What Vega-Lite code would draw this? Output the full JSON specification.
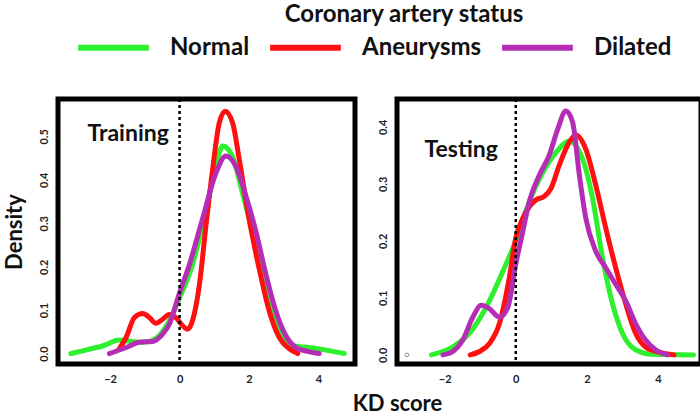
{
  "$schema": "https://vega.github.io/schema/vega-lite/v6.json",
  "padding": {"left": 0, "top": 3, "right": 0, "bottom": 0},
  "title": {"text": "Coronary artery status", "font": "Lato", "fontSize": 24, "fontWeight": "bold", "color": "#111", "anchor": "middle", "dx": 52, "offset": -18},
  "datasets": {
    "curves": [
      {"panel": "Training", "status": "Normal", "kd": -3.13, "density": 0.0},
      {"panel": "Training", "status": "Normal", "kd": -2.7, "density": 0.008},
      {"panel": "Training", "status": "Normal", "kd": -2.2, "density": 0.018},
      {"panel": "Training", "status": "Normal", "kd": -1.74, "density": 0.031},
      {"panel": "Training", "status": "Normal", "kd": -1.4, "density": 0.028},
      {"panel": "Training", "status": "Normal", "kd": -1.06, "density": 0.026},
      {"panel": "Training", "status": "Normal", "kd": -0.8, "density": 0.03},
      {"panel": "Training", "status": "Normal", "kd": -0.59, "density": 0.041},
      {"panel": "Training", "status": "Normal", "kd": -0.3, "density": 0.075},
      {"panel": "Training", "status": "Normal", "kd": 0.0, "density": 0.128},
      {"panel": "Training", "status": "Normal", "kd": 0.37, "density": 0.204},
      {"panel": "Training", "status": "Normal", "kd": 0.66, "density": 0.295},
      {"panel": "Training", "status": "Normal", "kd": 0.95, "density": 0.4},
      {"panel": "Training", "status": "Normal", "kd": 1.1, "density": 0.45},
      {"panel": "Training", "status": "Normal", "kd": 1.24, "density": 0.478},
      {"panel": "Training", "status": "Normal", "kd": 1.4, "density": 0.47},
      {"panel": "Training", "status": "Normal", "kd": 1.53, "density": 0.452},
      {"panel": "Training", "status": "Normal", "kd": 1.81, "density": 0.37},
      {"panel": "Training", "status": "Normal", "kd": 2.1, "density": 0.28},
      {"panel": "Training", "status": "Normal", "kd": 2.39, "density": 0.19},
      {"panel": "Training", "status": "Normal", "kd": 2.68, "density": 0.098},
      {"panel": "Training", "status": "Normal", "kd": 2.96, "density": 0.037},
      {"panel": "Training", "status": "Normal", "kd": 3.25, "density": 0.018},
      {"panel": "Training", "status": "Normal", "kd": 3.73, "density": 0.014},
      {"panel": "Training", "status": "Normal", "kd": 4.21, "density": 0.008},
      {"panel": "Training", "status": "Normal", "kd": 4.74, "density": 0.0},

      {"panel": "Training", "status": "Aneurysms", "kd": -1.74, "density": 0.011},
      {"panel": "Training", "status": "Aneurysms", "kd": -1.54, "density": 0.037},
      {"panel": "Training", "status": "Aneurysms", "kd": -1.3, "density": 0.083},
      {"panel": "Training", "status": "Aneurysms", "kd": -1.06, "density": 0.092},
      {"panel": "Training", "status": "Aneurysms", "kd": -0.87, "density": 0.083},
      {"panel": "Training", "status": "Aneurysms", "kd": -0.68, "density": 0.07},
      {"panel": "Training", "status": "Aneurysms", "kd": -0.49, "density": 0.079},
      {"panel": "Training", "status": "Aneurysms", "kd": -0.3, "density": 0.09},
      {"panel": "Training", "status": "Aneurysms", "kd": -0.11, "density": 0.083},
      {"panel": "Training", "status": "Aneurysms", "kd": 0.09, "density": 0.064},
      {"panel": "Training", "status": "Aneurysms", "kd": 0.23, "density": 0.056},
      {"panel": "Training", "status": "Aneurysms", "kd": 0.37, "density": 0.075},
      {"panel": "Training", "status": "Aneurysms", "kd": 0.57, "density": 0.158},
      {"panel": "Training", "status": "Aneurysms", "kd": 0.76, "density": 0.295},
      {"panel": "Training", "status": "Aneurysms", "kd": 0.95, "density": 0.423},
      {"panel": "Training", "status": "Aneurysms", "kd": 1.14, "density": 0.53},
      {"panel": "Training", "status": "Aneurysms", "kd": 1.31, "density": 0.558},
      {"panel": "Training", "status": "Aneurysms", "kd": 1.53, "density": 0.53},
      {"panel": "Training", "status": "Aneurysms", "kd": 1.72, "density": 0.446},
      {"panel": "Training", "status": "Aneurysms", "kd": 2.0, "density": 0.31},
      {"panel": "Training", "status": "Aneurysms", "kd": 2.29, "density": 0.196},
      {"panel": "Training", "status": "Aneurysms", "kd": 2.58, "density": 0.098},
      {"panel": "Training", "status": "Aneurysms", "kd": 2.87, "density": 0.037},
      {"panel": "Training", "status": "Aneurysms", "kd": 3.16, "density": 0.011},
      {"panel": "Training", "status": "Aneurysms", "kd": 3.4, "density": 0.0},

      {"panel": "Training", "status": "Dilated", "kd": -2.02, "density": 0.0},
      {"panel": "Training", "status": "Dilated", "kd": -1.54, "density": 0.014},
      {"panel": "Training", "status": "Dilated", "kd": -1.16, "density": 0.026},
      {"panel": "Training", "status": "Dilated", "kd": -0.78, "density": 0.028},
      {"panel": "Training", "status": "Dilated", "kd": -0.49, "density": 0.045},
      {"panel": "Training", "status": "Dilated", "kd": -0.3, "density": 0.067},
      {"panel": "Training", "status": "Dilated", "kd": 0.0, "density": 0.14},
      {"panel": "Training", "status": "Dilated", "kd": 0.28, "density": 0.204},
      {"panel": "Training", "status": "Dilated", "kd": 0.66, "density": 0.31},
      {"panel": "Training", "status": "Dilated", "kd": 1.05, "density": 0.416},
      {"panel": "Training", "status": "Dilated", "kd": 1.33, "density": 0.455},
      {"panel": "Training", "status": "Dilated", "kd": 1.62, "density": 0.431},
      {"panel": "Training", "status": "Dilated", "kd": 1.91, "density": 0.363},
      {"panel": "Training", "status": "Dilated", "kd": 2.2, "density": 0.28},
      {"panel": "Training", "status": "Dilated", "kd": 2.49, "density": 0.181},
      {"panel": "Training", "status": "Dilated", "kd": 2.77, "density": 0.098},
      {"panel": "Training", "status": "Dilated", "kd": 3.06, "density": 0.041},
      {"panel": "Training", "status": "Dilated", "kd": 3.35, "density": 0.014},
      {"panel": "Training", "status": "Dilated", "kd": 3.68, "density": 0.005},
      {"panel": "Training", "status": "Dilated", "kd": 4.02, "density": 0.0},

      {"panel": "Testing", "status": "Normal", "kd": -2.37, "density": 0.0},
      {"panel": "Testing", "status": "Normal", "kd": -1.77, "density": 0.014},
      {"panel": "Testing", "status": "Normal", "kd": -1.3, "density": 0.038},
      {"panel": "Testing", "status": "Normal", "kd": -0.83, "density": 0.084},
      {"panel": "Testing", "status": "Normal", "kd": -0.36, "density": 0.147},
      {"panel": "Testing", "status": "Normal", "kd": 0.0, "density": 0.2},
      {"panel": "Testing", "status": "Normal", "kd": 0.38, "density": 0.269},
      {"panel": "Testing", "status": "Normal", "kd": 0.76, "density": 0.32},
      {"panel": "Testing", "status": "Normal", "kd": 1.13, "density": 0.355},
      {"panel": "Testing", "status": "Normal", "kd": 1.5, "density": 0.375},
      {"panel": "Testing", "status": "Normal", "kd": 1.88, "density": 0.344},
      {"panel": "Testing", "status": "Normal", "kd": 2.16, "density": 0.275},
      {"panel": "Testing", "status": "Normal", "kd": 2.44, "density": 0.17},
      {"panel": "Testing", "status": "Normal", "kd": 2.72, "density": 0.09},
      {"panel": "Testing", "status": "Normal", "kd": 3.0, "density": 0.038},
      {"panel": "Testing", "status": "Normal", "kd": 3.37, "density": 0.009},
      {"panel": "Testing", "status": "Normal", "kd": 3.84, "density": 0.001},
      {"panel": "Testing", "status": "Normal", "kd": 5.0, "density": 0.0},

      {"panel": "Testing", "status": "Aneurysms", "kd": -1.28, "density": 0.0},
      {"panel": "Testing", "status": "Aneurysms", "kd": -1.02, "density": 0.006},
      {"panel": "Testing", "status": "Aneurysms", "kd": -0.74, "density": 0.02},
      {"panel": "Testing", "status": "Aneurysms", "kd": -0.46, "density": 0.055},
      {"panel": "Testing", "status": "Aneurysms", "kd": -0.18, "density": 0.136},
      {"panel": "Testing", "status": "Aneurysms", "kd": 0.0, "density": 0.205},
      {"panel": "Testing", "status": "Aneurysms", "kd": 0.2, "density": 0.24},
      {"panel": "Testing", "status": "Aneurysms", "kd": 0.38, "density": 0.26},
      {"panel": "Testing", "status": "Aneurysms", "kd": 0.57, "density": 0.272},
      {"panel": "Testing", "status": "Aneurysms", "kd": 0.8, "density": 0.278},
      {"panel": "Testing", "status": "Aneurysms", "kd": 0.99, "density": 0.292},
      {"panel": "Testing", "status": "Aneurysms", "kd": 1.22, "density": 0.332},
      {"panel": "Testing", "status": "Aneurysms", "kd": 1.5, "density": 0.373},
      {"panel": "Testing", "status": "Aneurysms", "kd": 1.69, "density": 0.386},
      {"panel": "Testing", "status": "Aneurysms", "kd": 1.97, "density": 0.361},
      {"panel": "Testing", "status": "Aneurysms", "kd": 2.25, "density": 0.298},
      {"panel": "Testing", "status": "Aneurysms", "kd": 2.53, "density": 0.223},
      {"panel": "Testing", "status": "Aneurysms", "kd": 2.81, "density": 0.153},
      {"panel": "Testing", "status": "Aneurysms", "kd": 3.09, "density": 0.09},
      {"panel": "Testing", "status": "Aneurysms", "kd": 3.37, "density": 0.038},
      {"panel": "Testing", "status": "Aneurysms", "kd": 3.65, "density": 0.014},
      {"panel": "Testing", "status": "Aneurysms", "kd": 4.03, "density": 0.005},
      {"panel": "Testing", "status": "Aneurysms", "kd": 4.45, "density": 0.0},

      {"panel": "Testing", "status": "Dilated", "kd": -2.05, "density": 0.0},
      {"panel": "Testing", "status": "Dilated", "kd": -1.77, "density": 0.006},
      {"panel": "Testing", "status": "Dilated", "kd": -1.49, "density": 0.026},
      {"panel": "Testing", "status": "Dilated", "kd": -1.21, "density": 0.066},
      {"panel": "Testing", "status": "Dilated", "kd": -0.97, "density": 0.087},
      {"panel": "Testing", "status": "Dilated", "kd": -0.74, "density": 0.081},
      {"panel": "Testing", "status": "Dilated", "kd": -0.46, "density": 0.066},
      {"panel": "Testing", "status": "Dilated", "kd": -0.22, "density": 0.084},
      {"panel": "Testing", "status": "Dilated", "kd": 0.0, "density": 0.159},
      {"panel": "Testing", "status": "Dilated", "kd": 0.2, "density": 0.217},
      {"panel": "Testing", "status": "Dilated", "kd": 0.38, "density": 0.269},
      {"panel": "Testing", "status": "Dilated", "kd": 0.66, "density": 0.315},
      {"panel": "Testing", "status": "Dilated", "kd": 0.94, "density": 0.35},
      {"panel": "Testing", "status": "Dilated", "kd": 1.18, "density": 0.396},
      {"panel": "Testing", "status": "Dilated", "kd": 1.41, "density": 0.428},
      {"panel": "Testing", "status": "Dilated", "kd": 1.6, "density": 0.408},
      {"panel": "Testing", "status": "Dilated", "kd": 1.79, "density": 0.315},
      {"panel": "Testing", "status": "Dilated", "kd": 1.97, "density": 0.24},
      {"panel": "Testing", "status": "Dilated", "kd": 2.25, "density": 0.182},
      {"panel": "Testing", "status": "Dilated", "kd": 2.53, "density": 0.153},
      {"panel": "Testing", "status": "Dilated", "kd": 2.81, "density": 0.124},
      {"panel": "Testing", "status": "Dilated", "kd": 3.09, "density": 0.095},
      {"panel": "Testing", "status": "Dilated", "kd": 3.37, "density": 0.055},
      {"panel": "Testing", "status": "Dilated", "kd": 3.65, "density": 0.026},
      {"panel": "Testing", "status": "Dilated", "kd": 3.93, "density": 0.009},
      {"panel": "Testing", "status": "Dilated", "kd": 4.26, "density": 0.0}
    ],
    "zero": [{"kd": 0}],
    "trainLabel": [{"kd": -1.48, "density": 0.49, "label": "Training"}],
    "testLabel": [{"kd": -1.535, "density": 0.347, "label": "Testing"}],
    "testPoint": [{"kd": -3.06, "density": 0.0}]
  },
  "bounds": "flush",
  "spacing": 42,
  "hconcat": [
    {
      "width": 297,
      "height": 265,
      "layer": [
        {
          "data": {"name": "curves"},
          "transform": [{"filter": "datum.panel === 'Training'"}],
          "mark": {"type": "line", "strokeWidth": 5, "interpolate": "monotone", "strokeCap": "round", "strokeJoin": "round"},
          "encoding": {
            "x": {"field": "kd", "type": "quantitative", "scale": {"domain": [-3.5, 5.05], "nice": false, "zero": false},
                  "axis": {"values": [-2, 0, 2, 4], "title": null}},
            "y": {"field": "density", "type": "quantitative", "scale": {"domain": [-0.024, 0.586], "nice": false, "zero": false},
                  "axis": {"values": [0, 0.1, 0.2, 0.3, 0.4, 0.5], "format": ".1f", "title": "Density",
                           "labelAngle": -90, "labelAlign": "center", "labelBaseline": "bottom"}},
            "color": {"field": "status", "type": "nominal",
                      "scale": {"domain": ["Normal", "Aneurysms", "Dilated"], "range": ["#2ff02f", "#ff1010", "#b52db5"]},
                      "legend": {"title": null}}
          }
        },
        {
          "data": {"name": "zero"},
          "mark": {"type": "rule", "strokeDash": [3, 3], "strokeWidth": 2.5, "color": "black"},
          "encoding": {"x": {"field": "kd", "type": "quantitative"}}
        },
        {
          "data": {"name": "trainLabel"},
          "mark": {"type": "text", "font": "Lato", "fontSize": 23, "fontWeight": "bold", "color": "#111", "align": "center", "baseline": "alphabetic"},
          "encoding": {
            "x": {"field": "kd", "type": "quantitative"},
            "y": {"field": "density", "type": "quantitative"},
            "text": {"field": "label"}
          }
        }
      ]
    },
    {
      "width": 304,
      "height": 265,
      "layer": [
        {
          "data": {"name": "curves"},
          "transform": [{"filter": "datum.panel === 'Testing'"}],
          "mark": {"type": "line", "strokeWidth": 5, "interpolate": "monotone", "strokeCap": "round", "strokeJoin": "round"},
          "encoding": {
            "x": {"field": "kd", "type": "quantitative", "scale": {"domain": [-3.34, 5.21], "nice": false, "zero": false},
                  "axis": {"values": [-2, 0, 2, 4], "title": "KD score", "titleX": 0, "titleAlign": "center"}},
            "y": {"field": "density", "type": "quantitative", "scale": {"domain": [-0.016, 0.449], "nice": false, "zero": false},
                  "axis": {"values": [0, 0.1, 0.2, 0.3, 0.4], "format": ".1f", "title": null,
                           "labelAngle": -90, "labelAlign": "center", "labelBaseline": "bottom"}},
            "color": {"field": "status", "type": "nominal",
                      "scale": {"domain": ["Normal", "Aneurysms", "Dilated"], "range": ["#2ff02f", "#ff1010", "#b52db5"]},
                      "legend": {"title": null}}
          }
        },
        {
          "data": {"name": "zero"},
          "mark": {"type": "rule", "strokeDash": [3, 3], "strokeWidth": 2.5, "color": "black"},
          "encoding": {"x": {"field": "kd", "type": "quantitative"}}
        },
        {
          "data": {"name": "testPoint"},
          "mark": {"type": "point", "filled": false, "size": 14, "strokeWidth": 1, "color": "#666"},
          "encoding": {
            "x": {"field": "kd", "type": "quantitative"},
            "y": {"field": "density", "type": "quantitative"}
          }
        },
        {
          "data": {"name": "testLabel"},
          "mark": {"type": "text", "font": "Lato", "fontSize": 23, "fontWeight": "bold", "color": "#111", "align": "center", "baseline": "alphabetic"},
          "encoding": {
            "x": {"field": "kd", "type": "quantitative"},
            "y": {"field": "density", "type": "quantitative"},
            "text": {"field": "label"}
          }
        }
      ]
    }
  ],
  "config": {
    "background": "white",
    "view": {"stroke": "black", "strokeWidth": 5},
    "axis": {
      "domain": false, "grid": false, "ticks": false, "tickSize": 0,
      "labelFont": "Lato", "labelFontSize": 11, "labelFontWeight": "bold", "labelColor": "#222", "labelPadding": 9,
      "titleFont": "Lato", "titleFontSize": 22, "titleFontWeight": "bold", "titleColor": "#111"
    },
    "axisX": {"titlePadding": 9},
    "axisY": {"titlePadding": 12},
    "legend": {
      "orient": "none", "legendX": 17, "legendY": -90, "direction": "horizontal", "symbolType": "stroke", "symbolSize": 5000, "symbolStrokeWidth": 6,
      "labelFont": "Lato", "labelFontSize": 24, "labelFontWeight": "bold", "labelColor": "#111",
      "labelOffset": 18, "columnPadding": 8, "padding": 0
    }
  }
}
